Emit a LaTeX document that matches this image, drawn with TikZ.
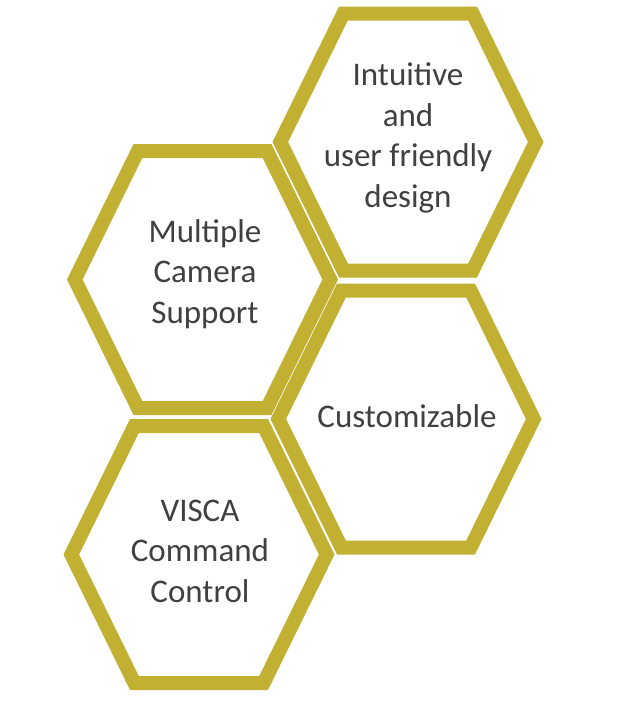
\documentclass[tikz,border=0pt]{standalone}
\usepackage{fontspec}
\setmainfont{Carlito}
\definecolor{gold}{HTML}{C2B033}
\definecolor{txt}{HTML}{404040}
\begin{document}
\begin{tikzpicture}[x=1pt,y=-1pt,
  hexline/.style={draw=gold, line width=14pt, line join=miter},
  label/.style={text=txt, align=center, font=\fontsize{33}{40.5}\selectfont, inner sep=0pt}]
\useasboundingbox[fill=white] (0,0) rectangle (621,716);
\newcommand\hexpath{(-127.7,0) -- (-64.6,-128.5) -- (64.6,-128.5) -- (127.7,0) -- (64.6,128.5) -- (-64.6,128.5) -- cycle}
\draw[hexline,shift={(408,142)}] \hexpath;
\draw[hexline,shift={(202.5,279.5)}] \hexpath;
\draw[hexline,shift={(406,419)}] \hexpath;
\draw[hexline,shift={(199,554.5)}] \hexpath;
\node[label] (intuitive) at (408,138) {Intuitive\\and\\user friendly\\design};
\node[label] (multiple) at (205,274) {Multiple\\Camera\\Support};
\node[label] (custom) at (407,416) {Customizable};
\node[label] (visca) at (200,551) {VISCA\\Command\\Control};
\end{tikzpicture}
\end{document}
